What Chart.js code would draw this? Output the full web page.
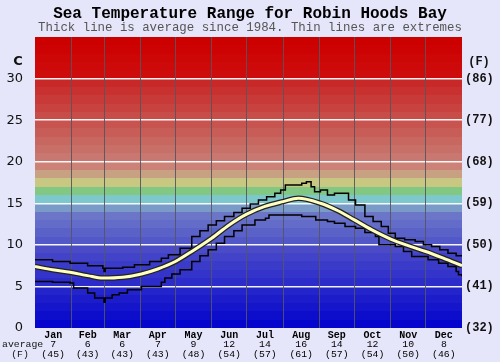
<!DOCTYPE html>
<html>
<head>
<meta charset="utf-8">
<script src="https://cdn.jsdelivr.net/npm/chart.js@4.4.0/dist/chart.umd.min.js"></script>
<style>
html, body { margin: 0; padding: 0; background: #e6e6fa; }
#wrap { width: 500px; height: 362px; }
</style>
</head>
<body>
<div id="wrap"><canvas id="chart" width="500" height="362"></canvas></div>
<script>
// Datos del gráfico
var months = ['Jan', 'Feb', 'Mar', 'Apr', 'May', 'Jun', 'Jul', 'Aug', 'Sep', 'Oct', 'Nov', 'Dec'];
var avgC = [7, 6, 6, 7, 9, 12, 14, 16, 14, 12, 10, 8];
var avgF = [45, 43, 43, 43, 48, 54, 57, 61, 57, 54, 50, 46];
var monthStart = [0, 31, 59, 90, 120, 151, 181, 212, 243, 273, 304, 334, 365];
var yTicksC = [0, 5, 10, 15, 20, 25, 30];
var yTicksF = [32, 41, 50, 59, 68, 77, 86];

// Media (línea gruesa), día del año y temperatura
var avgDays = [0, 15, 30, 45, 58, 75, 91, 105, 120, 135, 151, 166, 181, 196, 212, 225, 244, 259, 273, 288, 304, 319, 334, 349, 365];
var avgTemp = [7.4, 7.0, 6.7, 6.3, 6.0, 6.1, 6.5, 7.1, 8.0, 9.3, 10.8, 12.4, 13.7, 14.6, 15.2, 15.6, 15.0, 14.1, 13.0, 11.8, 10.7, 9.9, 9.2, 8.4, 7.5];

// Extremos (líneas finas)
var maxDays = [0, 15, 30, 45, 58, 59, 60, 75, 85, 98, 108, 114, 124, 134, 141, 148, 155, 162, 170, 177, 184, 191, 198, 205, 210, 214, 228, 232, 236, 239, 244, 250, 256, 261, 268, 274, 282, 289, 296, 302, 308, 316, 325, 332, 339, 346, 353, 360, 365];
var maxTemp = [8.2, 8.0, 7.8, 7.5, 7.2, 6.8, 7.2, 7.3, 7.6, 8.0, 8.4, 8.8, 9.6, 11.0, 11.7, 12.4, 12.9, 13.4, 13.9, 14.4, 14.9, 15.4, 15.8, 16.2, 16.6, 17.2, 17.4, 17.6, 17.0, 16.4, 16.6, 16.0, 16.2, 16.2, 15.4, 14.8, 13.4, 12.8, 12.2, 11.4, 10.8, 10.6, 10.4, 10.0, 9.8, 9.4, 9.0, 8.7, 8.6];
var minDays = [0, 15, 30, 33, 45, 51, 58, 59, 60, 66, 72, 79, 91, 103, 108, 111, 117, 124, 134, 141, 148, 155, 162, 170, 177, 188, 197, 200, 214, 228, 240, 250, 256, 265, 274, 282, 291, 294, 308, 315, 322, 336, 345, 353, 360, 362, 365];
var minTemp = [5.6, 5.5, 5.4, 4.8, 4.2, 3.6, 3.6, 3.1, 3.6, 4.0, 4.2, 4.6, 5.0, 5.0, 5.5, 6.0, 6.5, 7.0, 8.0, 8.7, 9.4, 10.2, 11.0, 11.7, 12.4, 13.0, 13.2, 13.6, 13.6, 13.4, 13.0, 12.8, 12.6, 12.2, 12.0, 11.5, 11.0, 10.0, 9.8, 9.2, 8.6, 8.2, 7.8, 7.4, 6.8, 6.4, 6.2];

function toPoints(days, temps) {
    return days.map(function (d, i) { return { x: d, y: temps[i] }; });
}

var monthMid = months.map(function (m, i) { return (monthStart[i] + monthStart[i + 1]) / 2; });

// Colores de las bandas de fondo (uno por grado)
function bandColor(t) {
    var c;
    if (t < 10) { var k = t / 9; c = [Math.round(5 + 70 * k), Math.round(5 + 70 * k), 205 - Math.round(5 * k)]; }
    else if (t < 14) { var k2 = (t - 10) / 3; c = [82 + 25 * k2, 88 + 30 * k2, 200]; }
    else if (t === 14) c = [122, 155, 200];
    else if (t === 15) c = [125, 200, 205];
    else if (t === 16) c = [130, 200, 130];
    else if (t === 17) c = [200, 200, 130];
    else if (t === 18) c = [200, 160, 130];
    else if (t === 19) c = [205, 130, 120];
    else if (t < 30) { var k3 = (t - 20) / 9; c = [200, Math.round(120 - 80 * k3), Math.round(112 - 72 * k3)]; }
    else { c = [205, Math.max(0, 12 - (t - 30) * 3), Math.max(0, 12 - (t - 30) * 3)]; }
    return 'rgb(' + c.join(',') + ')';
}

var backgroundPlugin = {
    id: 'fondo',
    beforeDraw: function (chart) {
        var ctx = chart.ctx, a = chart.chartArea, ys = chart.scales.y;
        ctx.save();
        ctx.fillStyle = '#e6e6fa';
        ctx.fillRect(0, 0, chart.width, chart.height);
        for (var t = 0; t < 35; t++) {
            var top = Math.round(ys.getPixelForValue(t + 1));
            var bot = Math.round(ys.getPixelForValue(t));
            ctx.fillStyle = bandColor(t);
            ctx.fillRect(a.left, top, a.right - a.left, bot - top);
        }
        ctx.restore();
    },
    afterDraw: function (chart) {
        var ctx = chart.ctx, ys = chart.scales.y;
        ctx.save();
        ctx.textAlign = 'center';
        ctx.textBaseline = 'middle';
        ctx.fillStyle = '#000';
        ctx.font = 'bold 16px "Liberation Mono"';
        ctx.fillText('Sea Temperature Range for Robin Hoods Bay', 250, 14);
        ctx.fillStyle = '#555';
        ctx.font = '12.4px "Liberation Mono"';
        ctx.fillText('Thick line is average since 1984. Thin lines are extremes', 250, 28);
        ctx.fillStyle = '#111';
        ctx.font = 'bold 13px "DejaVu Sans"';
        ctx.fillText('C', 18, ys.getPixelForValue(32));
        ctx.font = 'bold 12px "Liberation Mono"';
        ctx.fillText('(F)', 479, ys.getPixelForValue(32));
        ctx.font = '9.8px "Liberation Mono"';
        ctx.textAlign = 'left';
        ctx.fillText('average', 2, 344.5);
        ctx.textAlign = 'center';
        ctx.fillText('(F)', 20, 354);
        ctx.restore();
    }
};

var ctx = document.getElementById('chart').getContext('2d');
var chart = new Chart(ctx, {
    type: 'line',
    data: {
        datasets: [{
            data: toPoints(avgDays, avgTemp),
            borderColor: '#ffffc0',
            borderWidth: 3,
            cubicInterpolationMode: 'monotone',
            pointRadius: 0
        }, {
            data: toPoints(avgDays, avgTemp),
            borderColor: '#222',
            borderWidth: 5.5,
            cubicInterpolationMode: 'monotone',
            pointRadius: 0
        }, {
            data: toPoints(maxDays, maxTemp),
            borderColor: '#000',
            borderWidth: 1.5,
            stepped: true,
            pointRadius: 0
        }, {
            data: toPoints(minDays, minTemp),
            borderColor: '#000',
            borderWidth: 1.5,
            stepped: true,
            pointRadius: 0
        }]
    },
    options: {
        responsive: false,
        animation: false,
        devicePixelRatio: 1,
        layout: { padding: { top: 37 } },
        plugins: { legend: { display: false }, title: { display: false }, tooltip: { enabled: false } },
        scales: {
            y: {
                type: 'linear', position: 'left', min: 0, max: 35,
                afterBuildTicks: function (ax) { ax.ticks = yTicksC.map(function (v) { return { value: v }; }); },
                grid: {
                    color: function (c) { return c.tick && c.tick.value > 0 ? 'rgba(255,255,255,0.95)' : 'rgba(0,0,0,0)'; },
                    lineWidth: 1.5,
                    drawTicks: false
                },
                border: { display: false },
                ticks: { padding: 12, color: '#111', font: { family: 'DejaVu Sans', size: 13 } },
                afterFit: function (ax) { ax.width = 35; }
            },
            y2: {
                type: 'linear', position: 'right', min: 0, max: 35,
                afterBuildTicks: function (ax) { ax.ticks = yTicksC.map(function (v) { return { value: v }; }); },
                grid: { display: false, drawTicks: false },
                border: { display: false },
                ticks: {
                    padding: 3, color: '#111',
                    font: { family: 'Liberation Mono', size: 12, weight: 'bold' },
                    callback: function (v, i) { return '(' + yTicksF[i] + ')'; }
                },
                afterFit: function (ax) { ax.width = 38; }
            },
            x: {
                type: 'linear', position: 'bottom', min: 0, max: 365, weight: 0,
                afterBuildTicks: function (ax) { ax.ticks = monthMid.map(function (v) { return { value: v }; }); },
                grid: { display: false, drawTicks: false },
                border: { display: false },
                ticks: {
                    autoSkip: false, maxRotation: 0, padding: 1, color: '#000',
                    font: { family: 'Liberation Mono', size: 10, weight: 'bold' },
                    callback: function (v, i) { return months[i]; }
                },
                afterFit: function (ax) { ax.height = 12; }
            },
            xv: {
                type: 'linear', position: 'bottom', min: 0, max: 365, weight: 1,
                afterBuildTicks: function (ax) { ax.ticks = monthMid.map(function (v) { return { value: v }; }); },
                grid: { display: false, drawTicks: false },
                border: { display: false },
                ticks: {
                    autoSkip: false, maxRotation: 0, padding: 0, color: '#000',
                    font: { family: 'Liberation Mono', size: 9.8, lineHeight: 0.95 },
                    callback: function (v, i) { return [String(avgC[i]), '(' + avgF[i] + ')']; }
                },
                afterFit: function (ax) { ax.height = 22; }
            },
            x2: {
                type: 'linear', position: 'bottom', min: 0, max: 365, weight: 2,
                afterBuildTicks: function (ax) { ax.ticks = monthStart.slice(1, 12).map(function (v) { return { value: v }; }); },
                grid: { color: 'rgba(85,85,95,0.9)', lineWidth: 1, drawTicks: false },
                border: { display: false },
                ticks: { display: false },
                afterFit: function (ax) { ax.height = 0; }
            }
        }
    },
    plugins: [backgroundPlugin]
});
</script>
</body>
</html>
